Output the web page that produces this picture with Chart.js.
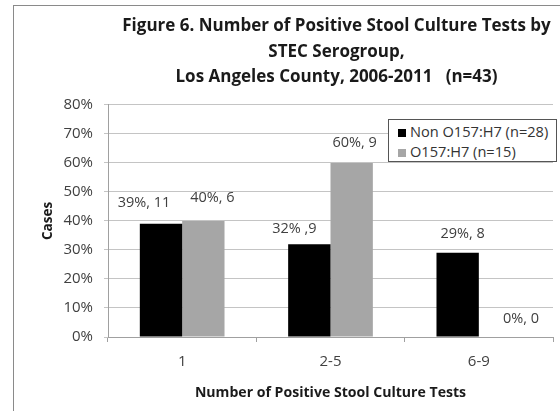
<!DOCTYPE html>
<html>
<head>
<meta charset="utf-8">
<script src="https://cdn.jsdelivr.net/npm/chart.js@4.4.0/dist/chart.umd.min.js"></script>
<style>
  body { margin: 0; background: #fff; overflow: hidden; }
  #wrap { position: relative; width: 560px; height: 411px; }
  #frame { position: absolute; left: 13px; top: 5px; width: 600px; height: 450px;
           border-left: 1px solid #8a8a8a; border-top: 1px solid #8a8a8a; }
  #legend { position: absolute; left: 388px; top: 119px; width: 167px; height: 41px;
            border: 1px solid #555; background: #fff; font: 14.6px "Open Sans", sans-serif; color: #333; }
  #legend div { height: 20px; line-height: 20px; white-space: nowrap; }
  #legend div:first-child { margin-top: 1px; }
  #legend span { display: inline-block; width: 8px; height: 8px; margin: 0 4px 0 9px; vertical-align: 0; }
</style>
</head>
<body>
<div id="wrap">
  <div id="frame"></div>
  <canvas id="stecChart" width="560" height="411"></canvas>
  <div id="legend"></div>
</div>
<script>
const categories = ['1', '2-5', '6-9'];

const nonO157Name = 'Non O157:H7 (n=28)';
const nonO157Pct = [39, 32, 29];
const nonO157Labels = ['39%, 11', '32% ,9', '29%, 8'];

const o157Name = 'O157:H7 (n=15)';
const o157Pct = [40, 60, 0];
const o157Labels = ['40%, 6', '60%, 9', '0%, 0'];

const yTicks = [0, 10, 20, 30, 40, 50, 60, 70, 80];

const titleLines = [
  'Figure 6. Number of Positive Stool Culture Tests by',
  'STEC Serogroup,',
  'Los Angeles County, 2006-2011   (n=43)'
];

const colors = ['#000000', '#a6a6a6'];

// hand-placed label offsets from each bar's top centre
const labelShift = [
  [[-17, -21], [-15, -15], [5, -19]],
  [[9, -23], [3, -20], [21, -18]]
];

const textColor = '#404040';
const fontFamily = '"Open Sans", sans-serif';

const barLabels = {
  id: 'barLabels',
  afterLayout(chart) {
    // title sits a little right of the plot centre
    chart.titleBlock.left += 6;
    chart.titleBlock.right += 6;
  },
  afterDatasetsDraw(chart) {
    const c = chart.ctx;
    c.save();
    c.font = '14.5px ' + fontFamily;
    c.fillStyle = textColor;
    c.textAlign = 'center';
    c.textBaseline = 'middle';
    chart.data.datasets.forEach((ds, i) => {
      chart.getDatasetMeta(i).data.forEach((bar, j) => {
        const [dx, dy] = labelShift[i][j];
        c.fillText(ds.valueLabels[j], bar.x + dx, bar.y + dy);
      });
    });
    c.restore();
  }
};

const chart = new Chart(document.getElementById('stecChart'), {
  type: 'bar',
  data: {
    labels: categories,
    datasets: [
      { label: nonO157Name, data: nonO157Pct, valueLabels: nonO157Labels,
        backgroundColor: colors[0], borderWidth: 0 },
      { label: o157Name, data: o157Pct, valueLabels: o157Labels,
        backgroundColor: colors[1], borderWidth: 0 }
    ]
  },
  options: {
    responsive: false,
    animation: false,
    devicePixelRatio: 1,
    layout: { padding: { top: 0, right: 7, bottom: 0, left: 0 } },
    datasets: { bar: { categoryPercentage: 0.571, barPercentage: 1 } },
    plugins: {
      legend: { display: false },
      tooltip: { enabled: false },
      title: {
        display: true,
        fullSize: false,
        text: titleLines,
        color: '#1a1a1a',
        font: { family: fontFamily, size: 17, weight: 'bold', lineHeight: '25.3px' },
        padding: { top: 14, bottom: 15 }
      }
    },
    scales: {
      x: {
        grid: { drawOnChartArea: false, drawTicks: true, tickLength: 5, color: '#a0a0a0', offset: true },
        border: { color: '#a0a0a0' },
        ticks: { color: textColor, font: { family: fontFamily, size: 15 }, padding: 11 },
        title: {
          display: true,
          text: 'Number of Positive Stool Culture Tests',
          color: '#1a1a1a',
          font: { family: fontFamily, size: 14.1, weight: 'bold' },
          padding: { top: 0, bottom: 9.5 }
        },
        afterFit(scale) { scale.height = 74; }
      },
      y: {
        min: 0,
        max: 80,
        afterBuildTicks(scale) { scale.ticks = yTicks.map(v => ({ value: v })); },
        grid: { color: '#c4c4c4', tickLength: 4 },
        border: { color: '#a0a0a0' },
        ticks: { color: textColor, font: { family: fontFamily, size: 15 }, padding: 11,
                 callback: v => v + '%' },
        title: {
          display: true,
          text: 'Cases',
          color: '#1a1a1a',
          font: { family: fontFamily, size: 13.5, weight: 'bold' },
          padding: { top: 39.9, bottom: 0 }
        },
        afterFit(scale) { scale.width = 108; }
      }
    }
  },
  plugins: [barLabels]
});

// legend box built from the datasets
const legendEl = document.getElementById('legend');
chart.data.datasets.forEach(ds => {
  const row = document.createElement('div');
  const sw = document.createElement('span');
  sw.style.background = ds.backgroundColor;
  row.appendChild(sw);
  row.appendChild(document.createTextNode(ds.label));
  legendEl.appendChild(row);
});
</script>
</body>
</html>
